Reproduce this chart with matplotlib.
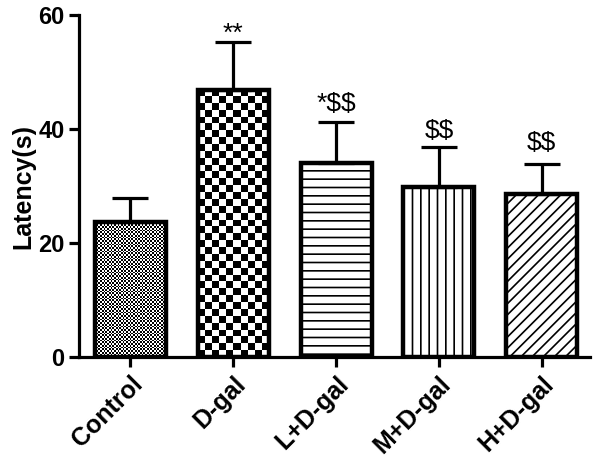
import numpy as np
import matplotlib.pyplot as plt

plt.rcParams["font.family"] = ["Liberation Sans", "DejaVu Sans"]
plt.rcParams["hatch.linewidth"] = 1.2

groups = ["Control", "D-gal", "L+D-gal", "M+D-gal", "H+D-gal"]
latency = [23.8, 46.9, 34.0, 29.8, 28.6]
sem = [4.2, 8.3, 7.2, 7.1, 5.3]
marks = ["", "**", "*$$", "$$", "$$"]

fig = plt.figure(figsize=(6.02, 4.59), dpi=100)
ax = fig.add_axes([0.1312, 0.2216, 0.849, 0.7457])

x = np.arange(len(groups))
ax.set_xlim(-0.5, 4.47)
ax.set_ylim(0, 60)

# bar outlines on top, fill patterns below
hatches = [None, None, "--", "||", "///"]
bars = ax.bar(x, latency, width=0.69, facecolor="none", edgecolor="black",
              linewidth=3.2, zorder=3)
for b, h in zip(bars, hatches):
    if h:
        b.set_hatch(h)

ax.errorbar(x, latency, yerr=[np.zeros(len(sem)), sem], fmt="none",
            ecolor="black", elinewidth=2.3, capsize=13, capthick=2.3, zorder=2)

# checkerboard fills for first two bars
fig.canvas.draw()
for b, cell in [(bars[0], 1.75), (bars[1], 6.9)]:
    x0, y0 = b.get_x(), b.get_y()
    x1, y1 = x0 + b.get_width(), y0 + b.get_height()
    p0 = ax.transData.transform((x0, y0))
    p1 = ax.transData.transform((x1, y1))
    nx = max(1, int(round(abs(p1[0] - p0[0]) / cell)))
    ny = max(1, int(round(abs(p1[1] - p0[1]) / cell)))
    board = (np.add.outer(np.arange(ny), np.arange(nx)) % 2).astype(float)
    ax.imshow(board, cmap="gray", extent=(x0, x1, y0, y1), origin="lower",
              interpolation="nearest", aspect="auto", zorder=1)
ax.set_xlim(-0.5, 4.47)
ax.set_ylim(0, 60)

# significance marks above the caps
offsets = [0, 1, 8, 6.5, 10]
for xi, m, top, off in zip(x, marks, np.add(latency, sem), offsets):
    if m:
        ax.annotate(m, (xi, top), xytext=(0, off), textcoords="offset points",
                    ha="center", va="baseline", fontsize=19, parse_math=False)

ax.spines["top"].set_visible(False)
ax.spines["right"].set_visible(False)
ax.spines["left"].set_linewidth(2.3)
ax.spines["bottom"].set_linewidth(2.3)
ax.tick_params(width=2.3, length=7.5, labelsize=17, pad=3)

ax.set_yticks([0, 20, 40, 60])
ax.set_yticklabels(["0", "20", "40", "60"], fontweight="bold")
ax.set_xticks(x)
ax.set_xticklabels(groups, rotation=45, ha="right", va="top",
                   rotation_mode="anchor", fontsize=18, fontweight="bold")
ax.set_ylabel("Latency(s)", fontsize=18, fontweight="bold", labelpad=2)

fig.savefig("out.png", dpi=100)
